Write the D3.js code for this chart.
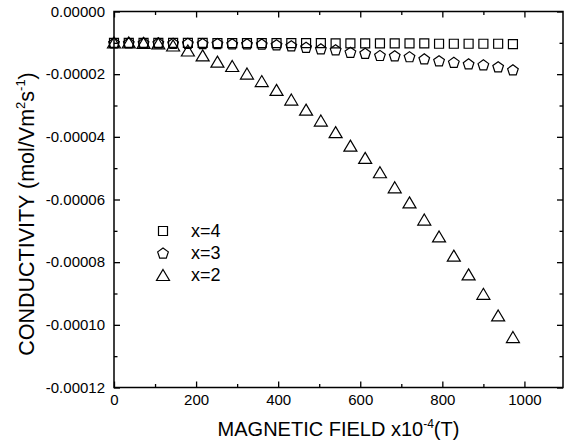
<!DOCTYPE html>
<html><head><meta charset="utf-8">
<script src="https://cdn.jsdelivr.net/npm/d3@7"></script>
<style>
body{margin:0;background:#fff}
text{font-family:"Liberation Sans",Arial,sans-serif;fill:#000}
</style>
</head><body>
<svg id="c" width="564" height="444"></svg>
<script>
// ---- data ----
const fields = [0,36,72,108,144,180,216,252,288,324,360,396,432,468,504,540,576,612,648,684,720,756,792,828,864,900,936,972];
const condX4 = [-1.00e-5,-1.00e-5,-1.00e-5,-1.00e-5,-1.00e-5,-1.00e-5,-1.00e-5,-1.01e-5,-1.01e-5,-1.01e-5,-1.01e-5,-1.01e-5,-1.01e-5,-1.01e-5,-1.01e-5,-1.02e-5,-1.02e-5,-1.02e-5,-1.02e-5,-1.02e-5,-1.02e-5,-1.02e-5,-1.03e-5,-1.03e-5,-1.03e-5,-1.03e-5,-1.03e-5,-1.04e-5];
const condX3 = [-1.00e-5,-1.00e-5,-1.00e-5,-1.00e-5,-1.01e-5,-1.01e-5,-1.02e-5,-1.02e-5,-1.03e-5,-1.03e-5,-1.04e-5,-1.06e-5,-1.09e-5,-1.14e-5,-1.19e-5,-1.22e-5,-1.30e-5,-1.33e-5,-1.40e-5,-1.41e-5,-1.44e-5,-1.51e-5,-1.57e-5,-1.62e-5,-1.67e-5,-1.70e-5,-1.76e-5,-1.86e-5];
const condX2 = [-0.99e-5,-0.99e-5,-1.00e-5,-1.02e-5,-1.085e-5,-1.245e-5,-1.40e-5,-1.60e-5,-1.74e-5,-1.98e-5,-2.22e-5,-2.50e-5,-2.81e-5,-3.13e-5,-3.48e-5,-3.85e-5,-4.28e-5,-4.67e-5,-5.13e-5,-5.61e-5,-6.09e-5,-6.64e-5,-7.18e-5,-7.79e-5,-8.39e-5,-9.01e-5,-9.70e-5,-10.39e-5];
const seriesNames = ["x=4","x=3","x=2"];
const xTicks = [0,200,400,600,800,1000];
const xMinorTicks = [100,300,500,700,900];
const yTicks = [0,-0.00002,-0.00004,-0.00006,-0.00008,-0.00010,-0.00012];
const yMinorTicks = [-0.00001,-0.00003,-0.00005,-0.00007,-0.00009,-0.00011];

// ---- chart ----
const svg = d3.select("#c");
const pL=114, pR=563, pT=11.5, pB=387.5;
const x = d3.scaleLinear().domain([0,1094]).range([pL,pR]);
const y = d3.scaleLinear().domain([-0.00012,0]).range([pB,pT]);
const loc = d3.formatLocale({decimal:".",thousands:",",grouping:[3],currency:["",""],minus:"-"});
const fmtY = loc.format(".5f");

function styleAxis(g){
  g.select(".domain").remove();
  g.selectAll(".tick line").attr("stroke","#000").attr("stroke-width",1.3);
  g.selectAll(".tick text").attr("font-size",15).attr("font-family","'Liberation Sans',Arial,sans-serif").attr("fill","#000");
}
svg.append("g").attr("transform",`translate(${pL},0)`)
  .call(d3.axisLeft(y).tickValues(yTicks).tickFormat(fmtY).tickSize(-6).tickPadding(9)).call(styleAxis);
svg.append("g").attr("transform",`translate(0,${pB})`)
  .call(d3.axisBottom(x).tickValues(xTicks).tickFormat(d3.format("d")).tickSize(-6).tickPadding(7)).call(styleAxis);
svg.append("g").attr("transform",`translate(${pL},0)`)
  .call(d3.axisLeft(y).tickValues(yMinorTicks).tickFormat("").tickSize(-3.5)).call(styleAxis);
svg.append("g").attr("transform",`translate(0,${pB})`)
  .call(d3.axisBottom(x).tickValues(xMinorTicks).tickFormat("").tickSize(-3.5)).call(styleAxis);
svg.append("g").attr("transform",`translate(0,${pT})`)
  .call(d3.axisTop(x).tickValues(xTicks).tickFormat("").tickSize(-6)).call(styleAxis);
svg.append("g").attr("transform",`translate(0,${pT})`)
  .call(d3.axisTop(x).tickValues(xMinorTicks).tickFormat("").tickSize(-3.5)).call(styleAxis);
svg.append("g").attr("transform",`translate(${pR},0)`)
  .call(d3.axisRight(y).tickValues(yTicks).tickFormat("").tickSize(-6)).call(styleAxis);
svg.append("g").attr("transform",`translate(${pR},0)`)
  .call(d3.axisRight(y).tickValues(yMinorTicks).tickFormat("").tickSize(-3.5)).call(styleAxis);

svg.append("rect").attr("x",pL).attr("y",pT).attr("width",pR-pL).attr("height",pB-pT)
  .attr("fill","none").attr("stroke","#000").attr("stroke-width",1.5);

const shapes = {
  square: "M-4.5,-4.5H4.5V4.5H-4.5Z",
  pentagon: (()=>{const r=5.6;let p=[];for(let i=0;i<5;i++){const a=-Math.PI/2+i*2*Math.PI/5;p.push([r*Math.cos(a),r*Math.sin(a)+0.6]);}return "M"+p.map(q=>q.join(",")).join("L")+"Z";})(),
  triangle: "M0,-5.5L6.5,5.5L-6.5,5.5Z"
};
const series = [
  {name:seriesNames[0], vals:condX4, shape:shapes.square},
  {name:seriesNames[1], vals:condX3, shape:shapes.pentagon},
  {name:seriesNames[2], vals:condX2, shape:shapes.triangle}
];
series.forEach(s=>{
  svg.append("g").selectAll("path").data(fields.map((f,i)=>[f,s.vals[i]])).join("path")
    .attr("d",s.shape).attr("transform",d=>`translate(${x(d[0])},${y(d[1])})`)
    .attr("fill","none").attr("stroke","#000").attr("stroke-width",1.2);
});

const lg = svg.append("g");
series.forEach((s,i)=>{
  const cy = 231 + i*22;
  lg.append("path").attr("d",s.shape).attr("transform",`translate(163,${cy})`)
    .attr("fill","none").attr("stroke","#000").attr("stroke-width",1.2);
  lg.append("text").attr("x",191).attr("y",cy).attr("dy","0.36em").attr("font-size",18).text(s.name);
});

const xt = svg.append("text").attr("x",(pL+pR)/2).attr("y",436).attr("text-anchor","middle").attr("font-size",20);
xt.append("tspan").text("MAGNETIC FIELD x10");
xt.append("tspan").attr("font-size",12).attr("dy",-8).text("-4");
xt.append("tspan").attr("dy",8).text("(T)");

const yt = svg.append("text").attr("transform","translate(34,214) rotate(-90)").attr("text-anchor","middle").attr("font-size",21.5);
yt.append("tspan").text("CONDUCTIVITY (mol/Vm");
yt.append("tspan").attr("font-size",13).attr("dy",-9).text("2");
yt.append("tspan").attr("dy",9).text("s");
yt.append("tspan").attr("font-size",13).attr("dy",-9).text("-1");
yt.append("tspan").attr("dy",9).text(")");
</script>
</body></html>
